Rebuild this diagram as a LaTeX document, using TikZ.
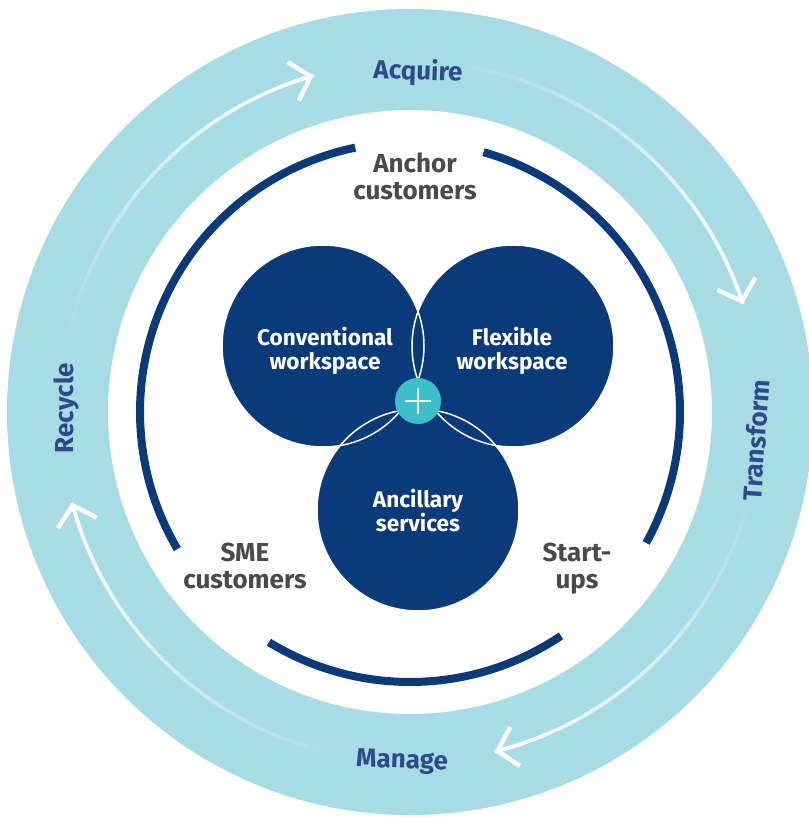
\documentclass[tikz,border=0pt]{standalone}
\usepackage{fontspec}
\setmainfont{Fira Sans}
\usetikzlibrary{arrows.meta}
\definecolor{ringblue}{HTML}{A8DCE4}
\definecolor{navy}{HTML}{0A3A7A}
\definecolor{plusteal}{HTML}{3DBFCB}
\definecolor{txtgrey}{HTML}{4A4A4A}
\definecolor{lblblue}{HTML}{2E4A8B}

\begin{document}
\begin{tikzpicture}[x=0.5pt,y=0.5pt,
    venn/.style={circle,fill=navy,minimum size=101pt,inner sep=0pt},
    venntext/.style={text=white,align=center,font=\bfseries\fontsize{11.3}{12}\selectfont},
    grouptext/.style={text=txtgrey,align=center,font=\bfseries\fontsize{13}{13.5}\selectfont},
    steptext/.style={text=lblblue,font=\bfseries\fontsize{13}{14}\selectfont},
    fadeline/.style={white,line width=1.8pt},
    custarc/.style={navy,line width=4pt},]
    \useasboundingbox (-410,-405) rectangle (398,412);

	% outer cycle ring
    \fill[ringblue,even odd rule] (0,0) circle[radius=403] (0,0) circle[radius=302];

	% fading arrows of the cycle
    \foreach \angA/\angB in {166/106, 80/18, -16/-76, 256/195} {
        \foreach \k in {0,...,19} {
            \pgfmathsetmacro\segA{\angA+(\angB-\angA)*\k/20}
            \pgfmathsetmacro\segB{\angA+(\angB-\angA)*(\k+1)/20}
            \pgfmathsetmacro\opac{(\k+1)/20}
            \draw[fadeline,opacity=\opac] (\segA:350) arc[start angle=\segA, end angle=\segB, radius=350];
        }
        \draw[fadeline,-{Straight Barb[length=9pt,width=20pt,line width=2.2pt]}]
            (\angB+5:350) arc[start angle=\angB+5, end angle=\angB, radius=350];
    }

	% steps of the cycle
    \node[steptext,rotate=-2] (ACQ) at (8,340) {Acquire};
    \node[steptext,rotate=86] (TRF) at (346,-28) {Transform};
    \node[steptext,rotate=-2] (MNG) at (-8,-350) {Manage};
    \node[steptext,rotate=90] (RCY) at (-343,4) {Recycle};

	% customer arcs
    \draw[custarc] (101.7:270) arc[start angle=101.7, end angle=210.5, radius=270];
    \draw[custarc] (238.5:270) arc[start angle=238.5, end angle=304, radius=270];
    \draw[custarc] (-29:270) arc[start angle=-29, end angle=74.2, radius=270];

    \node[grouptext] (AC) at (5,236) {Anchor\\customers};
    \node[grouptext] (SME) at (-165,-154) {SME\\customers};
    \node[grouptext] (SU) at (167,-157) {Start-\\ups};

	% workspace circles
    \node[venn] (CW) at (-87,66) {};
    \node[venn] (FW) at (103,66) {};
    \node[venn] (AS) at (8,-98) {};
    \foreach \n in {CW,FW,AS}
        \draw[white,line width=0.75pt] (\n.center) circle[radius=101];

    \node[venntext] (CWtxt) at (-85,61) {Conventional\\workspace};
    \node[venntext] (FWtxt) at (102,61) {Flexible\\workspace};
    \node[venntext] (AStxt) at (8,-99) {Ancillary\\services};

	% plus in the middle
    \node[circle,fill=plusteal,minimum size=23pt,inner sep=0pt] (PL) at (8,11) {};
    \draw[white,line width=0.8pt] (PL.center) ++(-13,0) -- ++(26,0);
    \draw[white,line width=0.8pt] (PL.center) ++(0,-13) -- ++(0,26);

\end{tikzpicture}
\end{document}
